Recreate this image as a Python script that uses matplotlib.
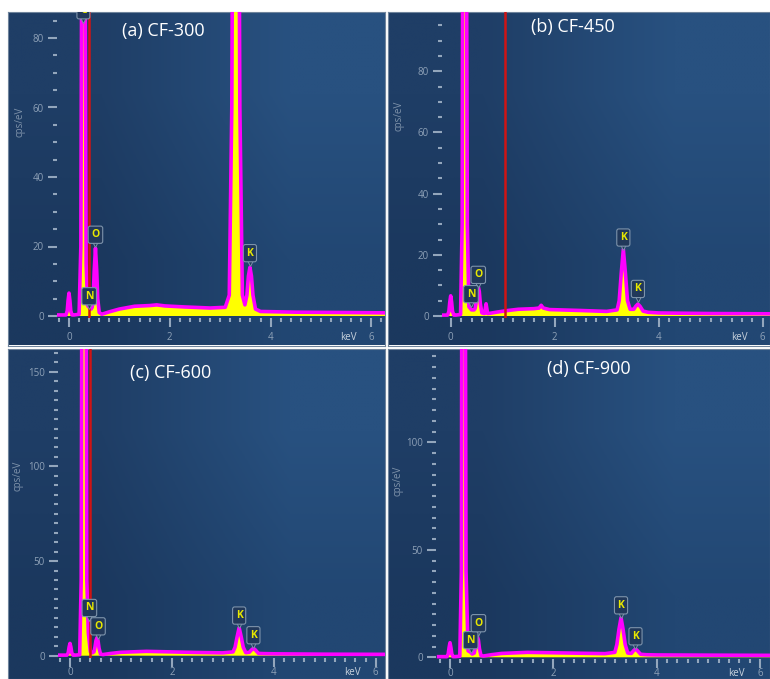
import numpy as np
import matplotlib
matplotlib.use("Agg")
import matplotlib.pyplot as plt
from matplotlib.ticker import MultipleLocator
from matplotlib.transforms import offset_copy

plt.rcParams['font.family'] = ['Open Sans', 'DejaVu Sans']

# ---- data ----
titles = ['(a) CF-300', '(b) CF-450', '(c) CF-600', '(d) CF-900']

energy_a = [-0.22, -0.06, -0.035, -0.018, 0.0, 0.018, 0.035, 0.06, 0.10, 0.20,
            0.235, 0.255, 0.27, 0.285, 0.30, 0.315, 0.34, 0.37, 0.40, 0.44,
            0.46, 0.48, 0.50, 0.525, 0.55, 0.57, 0.60, 0.65, 0.80, 1.00,
            1.30, 1.60, 1.74, 1.90, 2.30, 2.80, 3.10, 3.18, 3.23, 3.27,
            3.31, 3.35, 3.39, 3.44, 3.49, 3.53, 3.56, 3.59, 3.62, 3.65,
            3.70, 3.80, 4.50, 5.50, 6.30]
counts_a = [0.3, 0.3, 1.5, 4.5, 6.6, 4.5, 1.5, 0.3, 0.3, 0.5,
            20, 120, 300, 400, 300, 120, 15, 3.0, 2.5, 2.0,
            2.5, 5, 13, 19.5, 13, 5, 1.0, 0.5, 1.2, 2.0,
            2.8, 3.0, 3.2, 2.9, 2.6, 2.3, 2.5, 6, 60, 200,
            300, 200, 60, 6, 3.2, 6, 11.5, 14, 11.5, 6,
            2.0, 1.3, 1.1, 1.0, 0.9]

energy_b = [-0.22, -0.06, -0.035, -0.018, 0.0, 0.018, 0.035, 0.06, 0.10, 0.19,
            0.22, 0.24, 0.255, 0.265, 0.275, 0.29, 0.32, 0.35, 0.40, 0.45,
            0.47, 0.49, 0.51, 0.53, 0.55, 0.57, 0.60, 0.65, 0.68, 0.71,
            0.76, 0.90, 1.10, 1.30, 1.60, 1.70, 1.74, 1.78, 1.90, 2.50,
            3.00, 3.20, 3.24, 3.28, 3.32, 3.36, 3.40, 3.45, 3.52, 3.56,
            3.60, 3.64, 3.70, 3.80, 4.00, 5.00, 6.30]
counts_b = [0.3, 0.3, 1.5, 4.5, 6.6, 4.5, 1.5, 0.3, 0.3, 0.5,
            30, 200, 400, 450, 400, 200, 30, 3.0, 2.0, 2.0,
            2.5, 4.5, 8.0, 9.6, 8.0, 4.0, 1.0, 0.8, 4.0, 0.8,
            0.9, 1.3, 1.8, 2.2, 2.4, 2.6, 3.5, 2.6, 2.1, 1.8,
            1.5, 2.0, 5, 14, 21.8, 14, 5, 2.2, 2.2, 3.2,
            3.9, 3.2, 1.6, 1.2, 1.0, 0.8, 0.7]

energy_c = [-0.22, -0.06, -0.035, -0.018, 0.0, 0.018, 0.035, 0.06, 0.10, 0.19,
            0.22, 0.24, 0.26, 0.275, 0.29, 0.31, 0.33, 0.36, 0.40, 0.44,
            0.47, 0.49, 0.51, 0.53, 0.55, 0.57, 0.60, 0.65, 0.80, 1.00,
            1.50, 2.00, 2.50, 3.00, 3.20, 3.24, 3.28, 3.32, 3.36, 3.40,
            3.45, 3.52, 3.56, 3.60, 3.64, 3.70, 3.80, 4.00, 5.00, 6.30]
counts_c = [0.3, 0.3, 1.5, 4.5, 6.5, 4.5, 1.5, 0.3, 0.3, 0.5,
            40, 300, 600, 700, 600, 300, 40, 12, 2.0, 1.5,
            2.0, 4.5, 8, 9.5, 8, 4.0, 0.8, 0.6, 1.2, 1.8,
            2.3, 2.0, 1.7, 1.5, 2.0, 4.5, 10, 14.8, 10, 4.5,
            1.6, 1.8, 3.0, 3.9, 3.0, 1.2, 1.1, 1.0, 0.8, 0.7]

energy_d = [-0.22, -0.06, -0.035, -0.018, 0.0, 0.018, 0.035, 0.06, 0.10, 0.19,
            0.22, 0.235, 0.25, 0.26, 0.27, 0.285, 0.31, 0.35, 0.39, 0.43,
            0.47, 0.49, 0.51, 0.53, 0.55, 0.57, 0.60, 0.65, 0.80, 1.00,
            1.50, 2.00, 2.50, 3.00, 3.19, 3.23, 3.27, 3.31, 3.35, 3.39,
            3.44, 3.51, 3.55, 3.59, 3.63, 3.69, 3.80, 4.00, 5.00, 6.30]
counts_d = [0.3, 0.3, 1.5, 4.5, 6.8, 4.5, 1.5, 0.3, 0.3, 0.5,
            40, 300, 600, 700, 600, 300, 40, 3.0, 2.5, 1.5,
            2.0, 4.5, 8, 9.6, 8, 4.0, 0.8, 0.6, 1.2, 1.8,
            2.3, 2.1, 1.9, 1.7, 2.3, 6, 13, 18.4, 13, 6,
            2.0, 1.8, 3.0, 3.9, 3.0, 1.4, 1.2, 1.1, 1.0, 0.9]

# element markers: (symbol, energy keV, peak height)
labels_a = [('C', 0.285, 84.6), ('N', 0.40, 2.3), ('O', 0.525, 20.0), ('K', 3.59, 14.7)]
labels_b = [('N', 0.39, 3.3), ('O', 0.53, 9.6), ('K', 3.32, 21.8), ('K', 3.60, 5.0)]
labels_c = [('N', 0.38, 19.0), ('O', 0.55, 9.3), ('K', 3.32, 15.0), ('K', 3.60, 4.6)]
labels_d = [('N', 0.40, 2.5), ('O', 0.55, 10.4), ('K', 3.31, 18.7), ('K', 3.59, 4.3)]

red_line_a = 0.40
red_line_b = 1.04
red_line_c = 0.39
red_line_d = None

ymajor = [20, 20, 50, 50]

# ---- layout in pixels ----
W, H = 770, 679
layout = [
    dict(panel=(8, 385, 12, 345.5), axes=(57, 385, 12, 318), x0=69, ppk=50.4, y0=316, ppu=3.475,
         title_xy=(0.302, 0.943), ylab_xy=(0.032, 0.67), xpad=3.5),
    dict(panel=(388, 770, 12, 345.5), axes=(442, 770, 12, 318), x0=450.7, ppk=52.0, y0=316, ppu=3.06,
         title_xy=(0.374, 0.956), ylab_xy=(0.028, 0.69), xpad=3.5),
    dict(panel=(8, 385, 349, 679), axes=(58, 385, 349, 657.5), x0=70, ppk=50.95, y0=655.7, ppu=1.893,
         title_xy=(0.324, 0.927), ylab_xy=(0.026, 0.615), xpad=0.3),
    dict(panel=(388, 770, 349, 679), axes=(436, 770, 349, 659), x0=450, ppk=51.67, y0=657.3, ppu=2.15,
         title_xy=(0.415, 0.94), ylab_xy=(0.026, 0.60), xpad=0.0),
]

spectra = [(energy_a, counts_a), (energy_b, counts_b), (energy_c, counts_c), (energy_d, counts_d)]
labels = [labels_a, labels_b, labels_c, labels_d]
red_lines = [red_line_a, red_line_b, red_line_c, red_line_d]


def frac(rect):
    l, r, t, b = rect
    return [l / W, 1 - b / H, (r - l) / W, (b - t) / H]


fig = plt.figure(figsize=(W / 100, H / 100), dpi=100)
fig.patch.set_facecolor('white')

grad = np.array([[[0x1f, 0x3e, 0x66], [0x28, 0x51, 0x80]],
                 [[0x1b, 0x38, 0x5e], [0x22, 0x47, 0x73]]]) / 255.0
tick_col = '#93a6bc'

for i, lay in enumerate(layout):
    # panel background
    bg = fig.add_axes(frac(lay['panel']))
    bg.imshow(grad, extent=[0, 1, 0, 1], aspect='auto', interpolation='bilinear')
    bg.set_xlim(0, 1)
    bg.set_ylim(0, 1)
    bg.set_xticks([])
    bg.set_yticks([])
    for s in bg.spines.values():
        s.set_color('#6f849c')
        s.set_linewidth(0.8)
    bg.text(*lay['title_xy'], titles[i], transform=bg.transAxes, color='white',
            fontsize=13, va='center', ha='left')
    bg.text(*lay['ylab_xy'], 'cps/eV', transform=bg.transAxes, color='#7f93aa',
            fontsize=7, rotation=90, va='center', ha='center')

    # spectrum axes
    l, r, t, b = lay['axes']
    ax = fig.add_axes(frac(lay['axes']))
    ax.patch.set_alpha(0)
    ax.set_xlim((l - lay['x0']) / lay['ppk'], (r - lay['x0']) / lay['ppk'])
    ax.set_ylim((lay['y0'] - b) / lay['ppu'], (lay['y0'] - t) / lay['ppu'])
    for s in ax.spines.values():
        s.set_visible(False)

    e, c = spectra[i]
    ax.fill_between(e, c, 0, color='#ffff00', lw=0, zorder=2)
    ax.plot(e, c, color='#ff00ff', lw=2.6, solid_joinstyle='round', zorder=3)
    if red_lines[i] is not None:
        ax.axvline(red_lines[i], color='#d01414', lw=1.8, zorder=4)

    mark_tr = offset_copy(ax.transData, fig=fig, y=2.2, units='points')
    for sym, xe, yv in labels[i]:
        ax.plot([xe], [yv], marker='v', ms=5.5, mfc='#21385a', mec='#7d93ab', mew=0.7,
                transform=mark_tr, zorder=5, clip_on=True)
        ax.annotate(sym, xy=(xe, yv), xytext=(0, 4.5), textcoords='offset points',
                    ha='center', va='bottom', fontsize=7.5, color='#e8e800',
                    fontweight='bold', annotation_clip=False, clip_on=True, zorder=6,
                    bbox=dict(boxstyle='round,pad=0.3,rounding_size=0.2', fc='#21385a',
                              ec='#7d93ab', lw=0.8))

    ax.xaxis.set_major_locator(MultipleLocator(2))
    ax.xaxis.set_minor_locator(MultipleLocator(0.2))
    ax.yaxis.set_major_locator(MultipleLocator(ymajor[i]))
    ax.yaxis.set_minor_locator(MultipleLocator(5))
    ax.tick_params(axis='both', which='major', direction='out', color=tick_col,
                   labelcolor='#8ea1b7', labelsize=7, width=1.5, length=6.5, pad=3)
    ax.tick_params(axis='both', which='minor', direction='out', color=tick_col,
                   width=1.5, length=3.2)
    ax.tick_params(axis='x', which='major', pad=lay['xpad'])
    ax.annotate('keV', xy=(5.55, 0), xycoords=('data', 'axes fraction'),
                xytext=(0, -(6.5 + lay['xpad'])), textcoords='offset points',
                color='#c9d3de', fontsize=7, ha='center', va='top', annotation_clip=False)

fig.savefig('out.png', dpi=100, facecolor='white')
